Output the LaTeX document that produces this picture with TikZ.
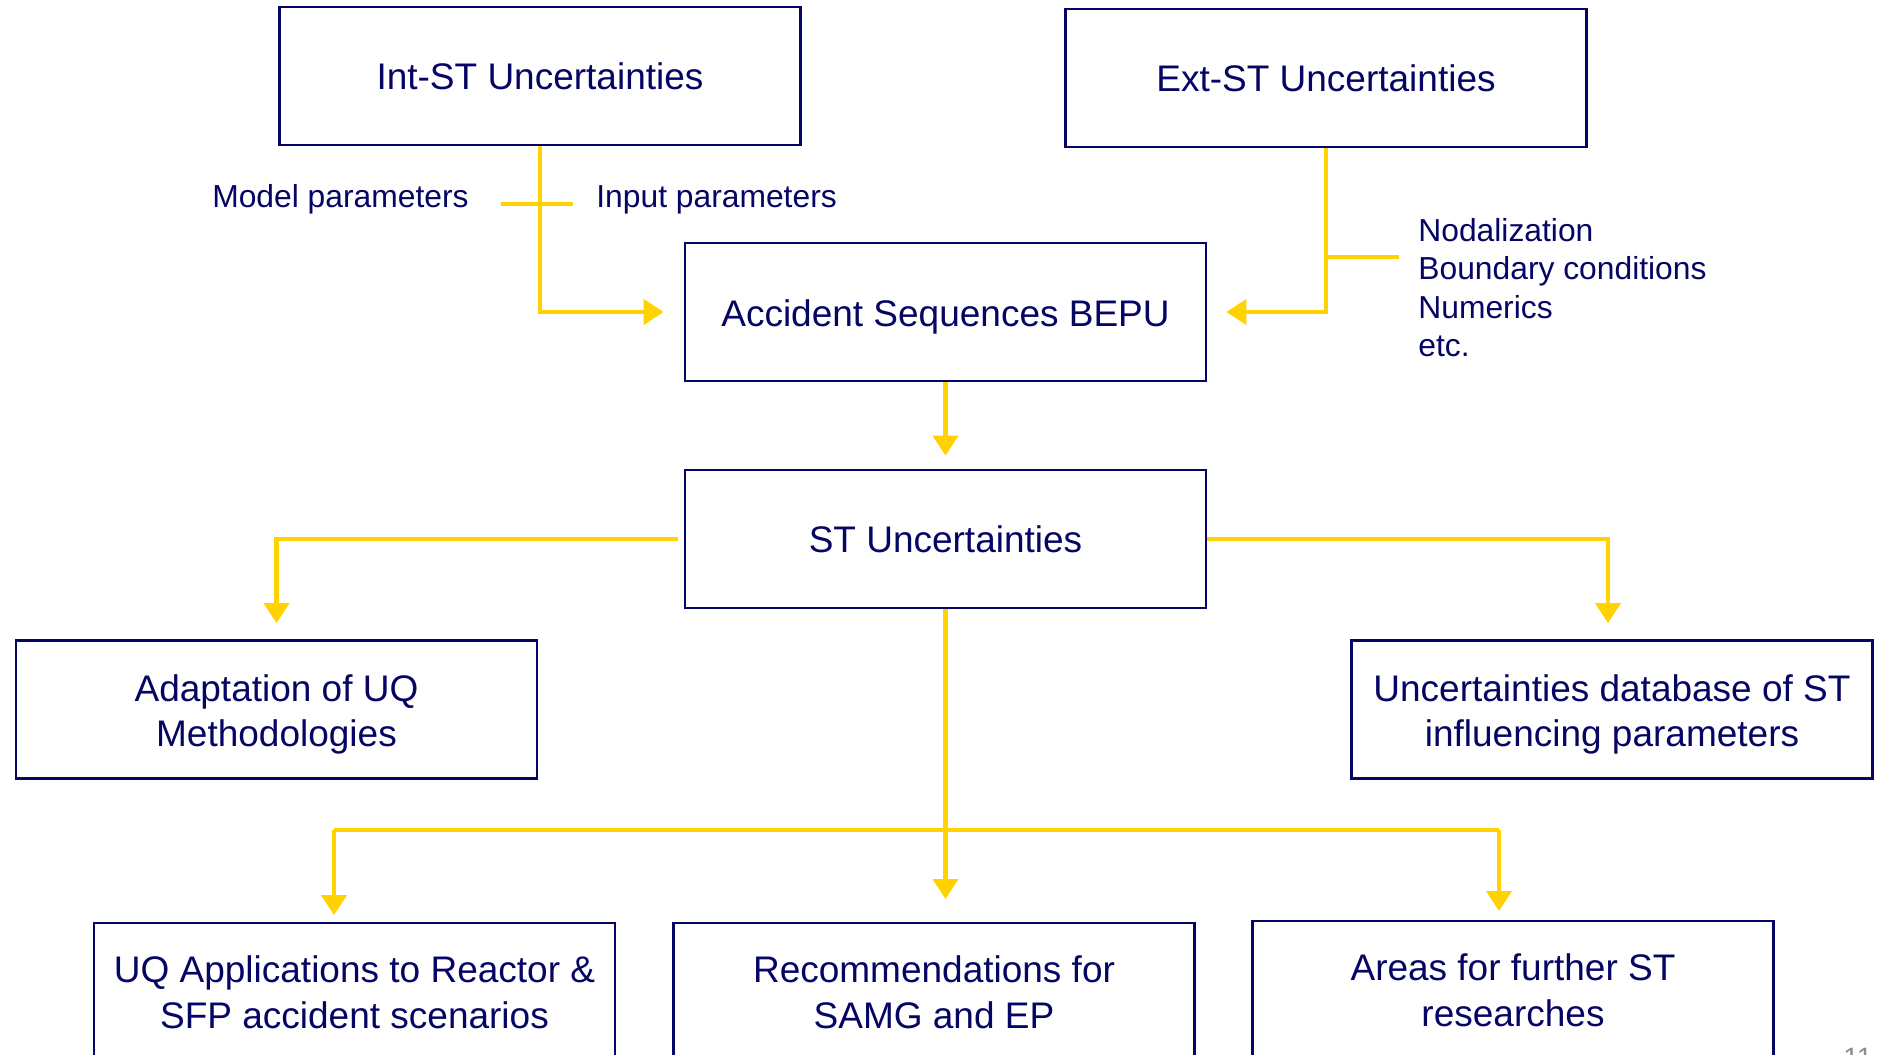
\documentclass[tikz,border=0pt]{standalone}
\usepackage{fontspec}
\setmainfont{Liberation Sans}
\usetikzlibrary{arrows.meta}
\definecolor{navyx}{RGB}{5,5,100}
\definecolor{goldx}{RGB}{255,210,0}
\definecolor{pagegray}{RGB}{140,140,140}
\newcommand{\lowertext}{\rule{0pt}{18.3pt}}
\begin{document}
\begin{tikzpicture}[x=0.5pt,y=-0.5pt,
  box/.style={draw=navyx, line width=1.4pt, minimum width=260.5pt, minimum height=69pt,
    inner sep=0pt, align=center, text=navyx,
    font=\fontsize{18.5pt}{22.8pt}\selectfont},
  lbl/.style={text=navyx, inner sep=0pt, font=\fontsize{15.9pt}{19.25pt}\selectfont},
  flow/.style={draw=goldx, line width=2.1pt},
  flowarr/.style={flow, -{Triangle[width=12.5pt,length=10pt]}}]
\useasboundingbox (0,0) rectangle (1880,1055);
\clip (0,0) rectangle (1880,1055);
\fill[white] (0,0) rectangle (1880,1055);

% boxes
\node[box] (int)   at (540,76)     {Int-ST Uncertainties};
\node[box] (ext)   at (1326,78)    {Ext-ST Uncertainties};
\node[box] (acc)   at (945.5,312)  {\lowertext Accident Sequences BEPU};
\node[box] (stu)   at (945.5,539)  {ST Uncertainties};
\node[box] (adapt) at (276.5,709.5){\lowertext Adaptation of UQ\\Methodologies};
\node[box] (udb)   at (1612,709.5) {\lowertext Uncertainties database of ST\\influencing parameters};
\node[box] (uqa)   at (354.5,992)  {UQ Applications to Reactor \&\\SFP accident scenarios};
\node[box] (rec)   at (934,992)    {Recommendations for\\SAMG and EP};
\node[box] (area)  at (1513,990)   {Areas for further ST\\researches};

% labels
\node[lbl, anchor=east] (mp) at (469,199.5) {Model parameters};
\node[lbl, anchor=west] (ip) at (596,199.5) {Input parameters};
\node[lbl, anchor=west, align=left] (extl) at (1418,287.5)
  {Nodalization\\Boundary conditions\\Numerics\\etc.};

% crossbars
\coordinate (cbL1) at (501,204);
\coordinate (cbR1) at (573,204);
\coordinate (cbL2) at (1327,257);
\coordinate (cbR2) at (1399,257);
\draw[flow] (cbL1) -- (cbR1);
\draw[flow] (cbL2) -- (cbR2);

% top connectors
\draw[flowarr, shorten >=10pt] (int.south) |- (acc.west);
\draw[flowarr, shorten >=9.5pt] (ext.south) |- (acc.east);
\draw[flowarr, shorten >=6.5pt] (acc.south) -- (stu.north);

% side connectors
\draw[flowarr, shorten <=3pt, shorten >=8pt] (stu.west) -| (adapt.north);
\draw[flowarr, shorten >=8pt] (stu.east) -| ([xshift=-2pt]udb.north);

% bottom distribution
\coordinate (jc) at (945.5,830);
\coordinate (jl) at (334,830);
\coordinate (jr) at (1499,830);
\coordinate (tl) at (334,915);
\coordinate (tc) at (945.5,899);
\coordinate (tr) at (1499,911);
\draw[flow] (stu.south) -- (jc);
\draw[flow] (jl) -- (jr);
\draw[flowarr] (jl) -- (tl);
\draw[flowarr] (jc) -- (tc);
\draw[flowarr] (jr) -- (tr);

% page number
\node[anchor=base, text=pagegray, inner sep=0pt, font=\fontsize{14pt}{16pt}\selectfont] (pg) at (1858,1067) {11};
\end{tikzpicture}
\end{document}
